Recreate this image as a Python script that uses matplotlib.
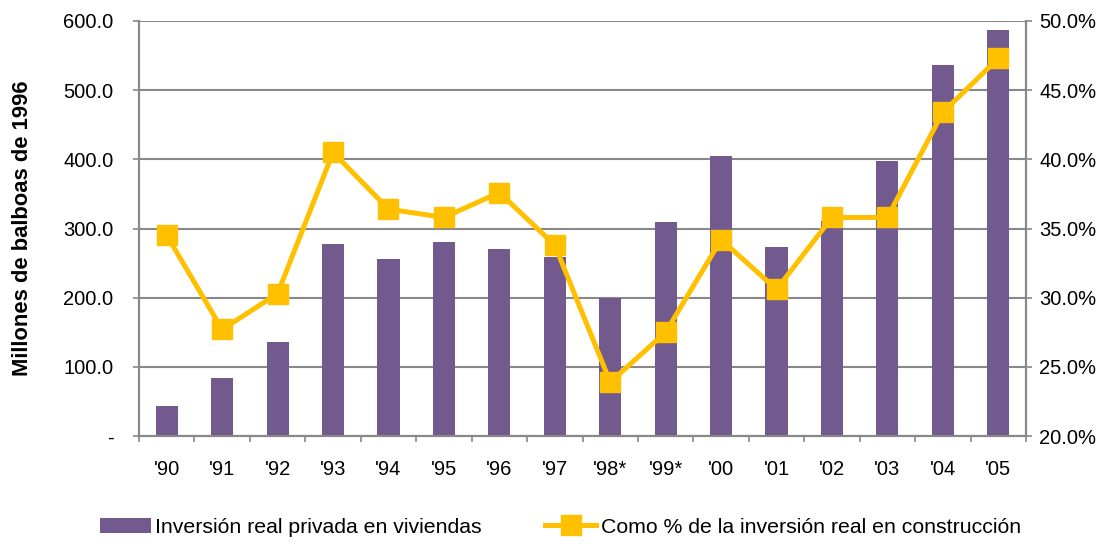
import numpy as np
import matplotlib.pyplot as plt
from matplotlib.ticker import FuncFormatter

plt.rcParams['font.family'] = ['Liberation Sans', 'DejaVu Sans']

# Datos
anios = ["'90", "'91", "'92", "'93", "'94", "'95", "'96", "'97",
         "'98*", "'99*", "'00", "'01", "'02", "'03", "'04", "'05"]
inversion_viviendas = [43, 84, 136, 277, 256, 280, 270, 259,
                       200, 309, 405, 273, 311, 398, 536, 587]
pct_construccion = [34.5, 27.7, 30.3, 40.5, 36.4, 35.8, 37.6, 33.8,
                    23.9, 27.5, 34.2, 30.6, 35.8, 35.8, 43.4, 47.3]

morado = '#725A8E'
amarillo = '#FFC000'
gris = '#888888'
fs = 14.5

fig = plt.figure(figsize=(11.14, 5.44), dpi=100)
ax = fig.add_axes([0.1248, 0.1985, 0.7962, 0.7629])
ax2 = ax.twinx()

x = np.arange(len(anios))
barras = ax.bar(x, inversion_viviendas, width=0.4, color=morado, zorder=2,
                label='Inversión real privada en viviendas')
linea, = ax2.plot(x, pct_construccion, color=amarillo, linewidth=3.6,
                  marker='s', markersize=14, zorder=3,
                  label='Como % de la inversión real en construcción')

ax.set_xlim(-0.5, len(anios) - 0.5)
ax.set_ylim(0, 600)
ax2.set_ylim(20, 50)
ax.set_yticks(np.arange(0, 601, 100))
ax2.set_yticks(np.arange(20, 50.1, 5))
ax.yaxis.set_major_formatter(FuncFormatter(lambda v, p: '-' if v == 0 else f'{v:.1f}'))
ax2.yaxis.set_major_formatter(FuncFormatter(lambda v, p: f'{v:.1f}%'))

ax.set_xticks(x)
ax.set_xticklabels(anios)
ax.set_xticks(np.arange(-0.5, len(anios), 1), minor=True)
ax.tick_params(axis='x', which='major', length=0, pad=17, labelsize=fs)
ax.tick_params(axis='x', which='minor', length=4.5, color=gris, width=1.2)
ax.tick_params(axis='y', length=4.5, color=gris, width=1.2, labelsize=fs, pad=14)
ax2.tick_params(axis='y', length=4.5, color=gris, width=1.2, labelsize=fs, pad=5)

ax.yaxis.grid(True, color=gris, linewidth=1.5, zorder=0)
ax.set_axisbelow(True)
for a in (ax, ax2):
    for s in a.spines.values():
        s.set_color(gris)
        s.set_linewidth(1.5)
    a.spines['top'].set_visible(False)

ax.set_ylabel('Millones de balboas de 1996', fontsize=15.8, fontweight='bold', labelpad=22)

fig.legend(handles=[barras, linea], loc='center', bbox_to_anchor=(0.503, 0.031),
           ncol=2, frameon=False, fontsize=15.3, columnspacing=3.0,
           handlelength=2.4, handletextpad=0.2)

plt.savefig('out.png', dpi=100)
